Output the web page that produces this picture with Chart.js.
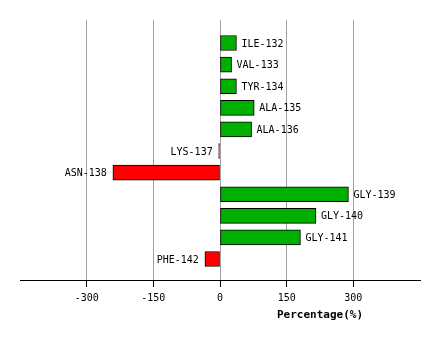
<!DOCTYPE html>
<html>
<head>
<meta charset="utf-8">
<script src="https://cdn.jsdelivr.net/npm/chart.js@4"></script>
<style>
  html, body { margin: 0; padding: 0; background: #fff; }
  #wrap { width: 440px; height: 340px; }
</style>
</head>
<body>
<div id="wrap"><canvas id="chart" width="440" height="340"></canvas></div>
<script>
// ---- Data ----
const residues = ['ILE-132', 'VAL-133', 'TYR-134', 'ALA-135', 'ALA-136', 'LYS-137',
                  'ASN-138', 'GLY-139', 'GLY-140', 'GLY-141', 'PHE-142'];
const percentages = [37, 26, 37, 77, 71, -3, -241, 289, 216, 181, -34];
const xTicks = [-300, -150, 0, 150, 300];
const axisTitle = 'Percentage(%)';

const FONT = '"DejaVu Sans Mono", "Liberation Mono", monospace';

// labels next to each bar end
const barLabels = {
  id: 'barLabels',
  afterDatasetsDraw(chart) {
    const ctx = chart.ctx;
    const meta = chart.getDatasetMeta(0);
    ctx.save();
    ctx.font = '10px ' + FONT;
    ctx.fillStyle = '#000';
    ctx.textBaseline = 'middle';
    meta.data.forEach((bar, i) => {
      const v = percentages[i];
      if (v >= 0) {
        ctx.textAlign = 'left';
        ctx.fillText(residues[i], bar.x + 5, bar.y + 1);
      } else {
        ctx.textAlign = 'right';
        ctx.fillText(residues[i], bar.x - 6, bar.y + 1);
      }
    });
    // axis title
    ctx.font = 'bold 11px ' + FONT;
    ctx.textAlign = 'center';
    ctx.fillText(axisTitle, 320, 315);
    ctx.restore();
  }
};

new Chart(document.getElementById('chart'), {
  type: 'bar',
  data: {
    datasets: [{
      data: percentages.map((v, i) => ({ x: v, y: i })),
      backgroundColor: percentages.map(v => v >= 0 ? '#00b000' : '#ff0000'),
      borderColor: '#000',
      borderWidth: 1,
      borderSkipped: false,
      barThickness: 15
    }]
  },
  options: {
    indexAxis: 'y',
    responsive: false,
    animation: false,
    layout: { padding: { left: 20, right: 20, top: 20, bottom: 0 } },
    plugins: { legend: { display: false }, tooltip: { enabled: false } },
    scales: {
      x: {
        type: 'linear',
        min: -450,
        max: 450,
        afterBuildTicks: s => { s.ticks = xTicks.map(v => ({ value: v })); },
        afterFit: s => { s.height = 60; },
        ticks: { color: '#000', font: { family: FONT, size: 10 }, padding: 5 },
        grid: { color: '#a0a0a0', tickColor: '#000', tickLength: 7, drawOnChartArea: true },
        border: { display: true, color: '#000', width: 1 }
      },
      y: {
        type: 'linear',
        reverse: true,
        offset: false,
        min: -1.065,
        max: 10.97,
        display: false
      }
    }
  },
  plugins: [barLabels]
});
</script>
</body>
</html>
